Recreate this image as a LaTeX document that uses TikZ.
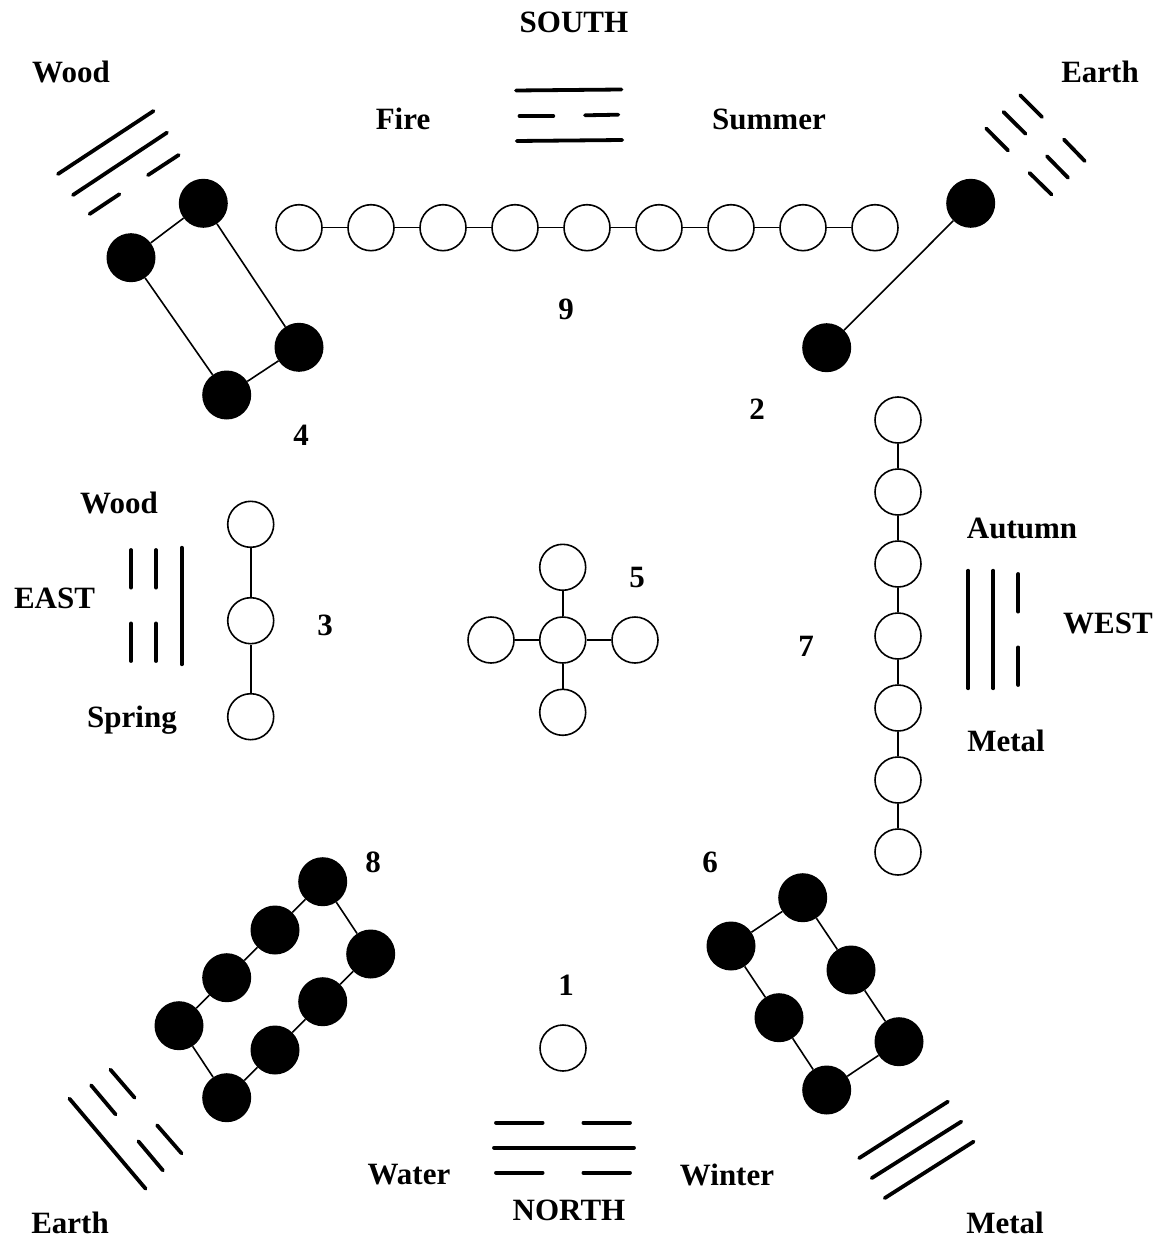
\documentclass[tikz,border=0pt]{standalone}
\usepackage{fontspec}
\setmainfont{Liberation Serif}
\begin{document}
\begin{tikzpicture}[x=1pt,y=-1pt,
  open/.style={circle,draw,line width=1.6pt,fill=white,minimum size=46pt,inner sep=0pt},
  full/.style={circle,fill=black,minimum size=49pt,inner sep=0pt},
  link/.style={line width=1.6pt},
  bar/.style={line width=3.8pt,line cap=round},
  lab/.style={font=\fontsize{31}{36}\selectfont\bfseries,inner sep=0pt,anchor=center}]
\useasboundingbox (0,0) rectangle (1166,1238);

% ---- group 9 (top row)
\foreach \k in {1,...,9}{\node[open] (r\k) at ({299+72*(\k-1)},227.7) {};}
\foreach \a/\b in {1/2,2/3,3/4,4/5,5/6,6/7,7/8,8/9}{\draw[link] (r\a) -- (r\b);}

% ---- group 4
\node[full] (a4) at (203.3,203.3) {};
\node[full] (b4) at (131,257.7) {};
\node[full] (c4) at (226.7,395) {};
\node[full] (d4) at (299,347.3) {};
\draw[link] (a4) -- (b4) -- (c4) -- (d4) -- (a4);

% ---- group 2
\node[full] (e2) at (970.7,203.3) {};
\node[full] (f2) at (826.7,347.7) {};
\draw[link] (e2) -- (f2);

% ---- group 7 (right column)
\foreach \k in {1,...,7}{\node[open] (s\k) at (898,{420+72*(\k-1)}) {};}
\foreach \a/\b in {1/2,2/3,3/4,4/5,5/6,6/7}{\draw[link] (s\a) -- (s\b);}

% ---- group 3
\node[open] (t1) at (250.7,524.3) {};
\node[open] (t2) at (250.7,620.7) {};
\node[open] (t3) at (250.7,716.7) {};
\draw[link] (t1) -- (t2) -- (t3);

% ---- group 5
\node[open] (c5) at (562.7,640) {};
\node[open] (n5) at (562.7,567.3) {};
\node[open] (s5) at (562.7,712.3) {};
\node[open] (w5) at (491,640) {};
\node[open] (e5) at (635,640) {};
\foreach \o in {n5,s5,w5,e5}{\draw[link] (c5) -- (\o);}

% ---- group 1
\node[open] (o1) at (563,1048) {};

% ---- group 8
\node[full] (p1) at (322.7,881.7) {};
\node[full] (p2) at (275,930) {};
\node[full] (p3) at (226.7,977.7) {};
\node[full] (p4) at (179,1025.7) {};
\node[full] (p5) at (226.7,1097.7) {};
\node[full] (p6) at (275,1050) {};
\node[full] (p7) at (322.7,1001.7) {};
\node[full] (p8) at (370.7,954) {};
\draw[link] (p1) -- (p2) -- (p3) -- (p4) -- (p5) -- (p6) -- (p7) -- (p8) -- (p1);

% ---- group 6
\node[full] (q1) at (731,946) {};
\node[full] (q2) at (802.7,897.7) {};
\node[full] (q3) at (851,970) {};
\node[full] (q4) at (899,1041.7) {};
\node[full] (q5) at (826.7,1090) {};
\node[full] (q6) at (779,1017.7) {};
\draw[link] (q1) -- (q2) -- (q3) -- (q4) -- (q5) -- (q6) -- (q1);

% ---- trigrams
% top-left (Wood)
\draw[bar] (58,174) -- (153.5,111);
\draw[bar] (73,195) -- (167,132.6);
\draw[bar] (89.6,214) -- (119.4,194.2);
\draw[bar] (148,175.1) -- (178.7,155);
% top-right (Earth)
\draw[bar] (1020.2,95.2) -- (1042.1,117.1);
\draw[bar] (1063.9,139.5) -- (1084.8,161.1);
\draw[bar] (1003.5,111.9) -- (1025.5,133.8);
\draw[bar] (1046.9,156.2) -- (1068.1,177.8);
\draw[bar] (986.2,128.5) -- (1008.1,150.5);
\draw[bar] (1029.5,172.9) -- (1051.5,194.5);
% south
\draw[bar] (516,90.5) -- (621.5,89.5);
\draw[bar] (519.5,116) -- (553.3,116);
\draw[bar] (585,115.3) -- (618.3,114.7);
\draw[bar] (516.8,141) -- (622.2,140);
% east
\draw[bar] (131,550) -- (131,587.6);
\draw[bar] (131,623.4) -- (131,661);
\draw[bar] (156,550) -- (156,587.6);
\draw[bar] (156,623.4) -- (156,661);
\draw[bar] (181.7,547.7) -- (181.7,664.3);
% west
\draw[bar] (968.3,570.7) -- (968.3,688.3);
\draw[bar] (993.3,570.7) -- (993.3,688.3);
\draw[bar] (1018.3,574) -- (1018.3,611.6);
\draw[bar] (1018.3,647.4) -- (1018.3,685);
% north
\draw[bar] (496,1122.7) -- (542.6,1122.7);
\draw[bar] (583.4,1122.7) -- (630,1122.7);
\draw[bar] (494,1147.7) -- (634,1147.7);
\draw[bar] (496,1172.7) -- (542.6,1172.7);
\draw[bar] (583.4,1172.7) -- (630,1172.7);
% bottom-left (Earth)
\draw[bar] (69.4,1098.6) -- (145.6,1188.7);
\draw[bar] (91.1,1085.3) -- (115.6,1114.4);
\draw[bar] (138.4,1141.3) -- (162.9,1170.4);
\draw[bar] (110.4,1069.6) -- (134.6,1097.7);
\draw[bar] (157.1,1125.3) -- (181.6,1153.4);
% bottom-right (Metal)
\draw[bar] (859.1,1158.1) -- (947.9,1101.6);
\draw[bar] (871.7,1178.1) -- (961.3,1121.6);
\draw[bar] (884.7,1198.1) -- (973.6,1141.6);

% ---- labels
\node[lab] (lSouth) at (574,22.5) {SOUTH};
\node[lab] (lWood1) at (71,72) {Wood};
\node[lab] (lEarth1) at (1100,72) {Earth};
\node[lab] (lFire) at (403,119) {Fire};
\node[lab] (lSummer) at (769,119) {Summer};
\node[lab] (l9) at (566,309) {9};
\node[lab] (l4) at (301,435) {4};
\node[lab] (l2) at (757,409) {2};
\node[lab] (lWood2) at (119,503) {Wood};
\node[lab] (lAutumn) at (1022,528) {Autumn};
\node[lab] (l5) at (637,577) {5};
\node[lab] (lEast) at (54.5,598) {EAST};
\node[lab] (l3) at (325,625) {3};
\node[lab] (lWest) at (1108,623) {WEST};
\node[lab] (l7) at (806,646) {7};
\node[lab] (lSpring) at (132,720) {Spring};
\node[lab] (lMetal1) at (1006,741) {Metal};
\node[lab] (l8) at (373,862) {8};
\node[lab] (l6) at (710,862) {6};
\node[lab] (l1) at (566,985) {1};
\node[lab] (lWater) at (409,1175) {Water};
\node[lab] (lWinter) at (727,1175) {Winter};
\node[lab] (lNorth) at (569,1210) {NORTH};
\node[lab] (lEarth2) at (70,1223) {Earth};
\node[lab] (lMetal2) at (1005,1223) {Metal};
\end{tikzpicture}
\end{document}
